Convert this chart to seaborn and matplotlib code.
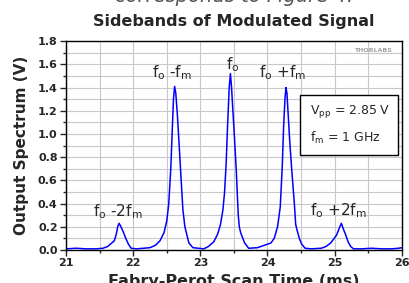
import pandas as pd
import matplotlib.pyplot as plt
import seaborn as sns
from matplotlib.ticker import MultipleLocator
from matplotlib.patches import Rectangle

# trace (ms, V)
scan_time = [21.00, 21.15, 21.30, 21.45, 21.55, 21.62, 21.68, 21.72, 21.75, 21.77, 21.79, 21.81, 21.85, 21.89, 21.93, 21.97,
             22.05, 22.15, 22.25, 22.33, 22.40, 22.46, 22.50, 22.53, 22.56, 22.58, 22.60, 22.617, 22.635, 22.66, 22.69,
             22.72, 22.74, 22.77, 22.80, 22.83, 22.89,
             23.05, 23.12, 23.20, 23.26, 23.30, 23.335, 23.36, 23.385, 23.405, 23.43, 23.448, 23.465, 23.49, 23.51,
             23.535, 23.55, 23.565, 23.58, 23.60, 23.62, 23.66, 23.72,
             23.85, 23.95, 24.05, 24.10, 24.15, 24.19, 24.22, 24.24, 24.26, 24.275, 24.29, 24.31, 24.33, 24.36, 24.40,
             24.42, 24.45, 24.48, 24.51, 24.56,
             24.65, 24.80, 24.87, 24.94, 24.98, 25.03, 25.07, 25.10, 25.13, 25.165, 25.20, 25.24, 25.28, 25.40, 25.55,
             25.70, 25.85, 25.95, 26.00]
output_v = [0.01, 0.015, 0.01, 0.01, 0.015, 0.03, 0.06, 0.08, 0.14, 0.20, 0.23, 0.21, 0.16, 0.10, 0.05, 0.015,
            0.01, 0.015, 0.02, 0.04, 0.08, 0.15, 0.25, 0.40, 0.70, 1.00, 1.30, 1.41, 1.35, 1.15, 0.85,
            0.55, 0.35, 0.20, 0.13, 0.06, 0.02,
            0.01, 0.03, 0.07, 0.14, 0.22, 0.34, 0.49, 0.75, 1.06, 1.40, 1.52, 1.40, 1.15, 0.95,
            0.69, 0.49, 0.30, 0.20, 0.15, 0.12, 0.06, 0.015,
            0.02, 0.04, 0.06, 0.10, 0.20, 0.37, 0.72, 1.06, 1.30, 1.40, 1.35, 1.15, 0.95, 0.70, 0.40,
            0.22, 0.15, 0.09, 0.05, 0.015,
            0.01, 0.015, 0.03, 0.06, 0.09, 0.13, 0.19, 0.23, 0.18, 0.13, 0.07, 0.03, 0.01, 0.01, 0.015,
            0.01, 0.01, 0.015, 0.02]

peak_labels = [r"f$_\mathrm{o}$ -2f$_\mathrm{m}$", r"f$_\mathrm{o}$ -f$_\mathrm{m}$", r"f$_\mathrm{o}$",
               r"f$_\mathrm{o}$ +f$_\mathrm{m}$", r"f$_\mathrm{o}$ +2f$_\mathrm{m}$"]
label_x = [21.77, 22.58, 23.48, 24.22, 25.05]
label_y = [0.33, 1.53, 1.60, 1.53, 0.34]

df = pd.DataFrame({"t": scan_time, "v": output_v})

sns.set_style("white")
plt.rcParams["font.family"] = ["DejaVu Sans"]

fig = plt.figure(figsize=(4.1, 2.83), dpi=100)
ax = fig.add_axes([0.161, 0.1166, 0.819, 0.738])

sns.lineplot(data=df, x="t", y="v", ax=ax, color="#0000ff", linewidth=1.1, sort=False, estimator=None)

ax.set_xlim(21, 26)
ax.set_ylim(0, 1.8)
ax.xaxis.set_major_locator(MultipleLocator(1))
ax.xaxis.set_minor_locator(MultipleLocator(0.5))
ax.yaxis.set_major_locator(MultipleLocator(0.2))
ax.yaxis.set_minor_locator(MultipleLocator(0.1))
ax.set_yticklabels([f"{v:.1f}" for v in ax.get_yticks()])
ax.grid(which="both", color="#c8c8c8", linewidth=0.8)
ax.set_axisbelow(True)
ax.tick_params(which="major", direction="out", length=4, width=1, labelsize=8, pad=2, left=True, bottom=True)
ax.tick_params(which="minor", direction="out", length=2.5, width=1, left=True, bottom=True)
for lab in ax.get_xticklabels() + ax.get_yticklabels():
    lab.set_fontweight("bold")
for sp in ax.spines.values():
    sp.set_color("black")
    sp.set_linewidth(1)

ax.set_xlabel("Fabry-Perot Scan Time (ms)", fontsize=11.5, fontweight="bold", labelpad=4)
ax.set_ylabel("Output Spectrum (V)", fontsize=11, fontweight="bold", labelpad=6)
ax.set_title("Sidebands of Modulated Signal", fontsize=11.5, fontweight="bold", pad=11)

for s, x, y in zip(peak_labels, label_x, label_y):
    ax.text(x, y, s, ha="center", va="center", fontsize=11)

# parameter box
ax.add_patch(Rectangle((0.696, 0.455), 0.292, 0.287, transform=ax.transAxes, facecolor="white",
                       edgecolor="black", linewidth=1, zorder=5))
ax.text(0.726, 0.665, "V$_\\mathrm{pp}$ = 2.85 V", transform=ax.transAxes, fontsize=9, va="center",
        ha="left", zorder=6)
ax.text(0.726, 0.535, "f$_\\mathrm{m}$ = 1 GHz", transform=ax.transAxes, fontsize=9, va="center",
        ha="left", zorder=6)
ax.text(0.97, 0.955, "THORLABS", transform=ax.transAxes, ha="right", va="center", fontsize=4.5,
        color="#a0a0a0", fontweight="bold")

fig.text(0.57, 0.993, "corresponds to Figure 4.", ha="center", va="baseline", fontsize=14,
         style="italic", color="#555555")

fig.savefig("out.png", dpi=100)
